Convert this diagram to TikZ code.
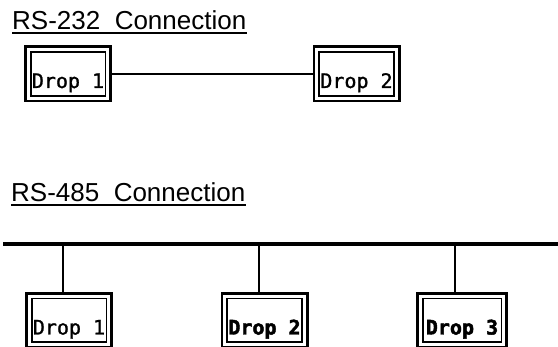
\documentclass[tikz,border=0pt]{standalone}
\usepackage{fontspec}
\setmainfont{Liberation Sans}
\newfontfamily\dropfont[FakeBold=1.2]{DejaVu Sans Mono}
\newfontfamily\dropheavy[FakeBold=2.2]{DejaVu Sans Mono Bold}
\begin{document}
\begin{tikzpicture}[x=1pt,y=1pt,
  title/.style={inner sep=0pt, anchor=base west, font=\fontsize{26}{30}\selectfont},
  uline/.style={line width=1.8pt},
  dropbox/.style={draw, line width=2.6pt, outer sep=0pt, inner sep=2pt,
    minimum width=85.4, minimum height=54.4,
    text height=28pt, text depth=0pt,
    font=\dropfont\fontsize{20}{22}\selectfont},
  boldtext/.style={font=\dropheavy\fontsize{20}{22}\selectfont},
  innerline/.style={line width=1.8pt},
  wire/.style={line width=1.5pt},
  bus/.style={line width=3.4pt},
  tap/.style={line width=1.7pt}]
\clip (0,0) rectangle (558,347);

% point-to-point link
\node[title] (t232) at (12,317) {RS-232~~Connection};
\draw[uline] ([yshift=-3pt]t232.base west) -- ([yshift=-3pt]t232.base east);
\node[dropbox] (a1) at (68,273) {Drop 1};
\node[dropbox] (a2) at (356.5,273) {Drop 2};
\draw[wire] (a1.east) -- (a2.west);

% multidrop bus
\node[title] (t485) at (11,145) {RS-485~~Connection};
\draw[uline] ([yshift=-3pt]t485.base west) -- ([yshift=-3pt]t485.base east);
\coordinate (busL) at (3,103);
\coordinate (busR) at (558,103);
\draw[bus] (busL) -- (busR);

\node[dropbox] (b1) at (69,26.5) {Drop 1};
\node[dropbox, boldtext] (b2) at (264.5,26.5) {Drop 2};
\node[dropbox, boldtext, minimum width=89.4] (b3) at (462,26.5) {Drop 3};

\coordinate (p1) at (63,103);
\coordinate (p2) at (259,103);
\coordinate (p3) at (455,103);
\foreach \p/\b in {p1/b1,p2/b2,p3/b3}
  \draw[tap] (\p) -- (\p |- \b.north);

% inner frame of each drop box
\foreach \n in {a1,a2,b1,b2,b3}
  \draw[innerline] ([shift={(5.3,-5.3)}]\n.north west) rectangle ([shift={(-5.3,5.3)}]\n.south east);
\end{tikzpicture}
\end{document}
